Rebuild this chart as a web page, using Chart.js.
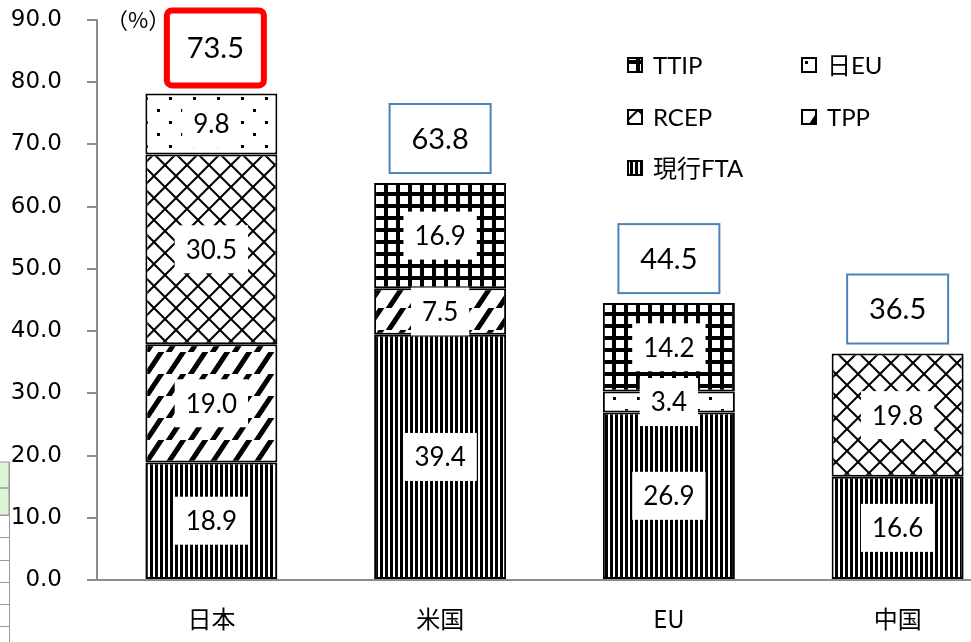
<!DOCTYPE html>
<html>
<head>
<meta charset="utf-8">
<script src="https://cdn.jsdelivr.net/npm/chart.js@4"></script>
<style>
  html, body { margin: 0; padding: 0; overflow: hidden; background: #fff; }
  #wrap { width: 1020px; height: 642px; }
</style>
</head>
<body>
<div id="wrap"><canvas id="chart" width="1020" height="642"></canvas></div>
<script>
// data
const categories = ['日本', '米国', 'EU', '中国'];
const ftaValues  = [18.9, 39.4, 26.9, 16.6];
const tppValues  = [19.0, 7.5, null, null];
const rcepValues = [30.5, null, null, 19.8];
const jpeuValues = [9.8, null, 3.4, null];
const ttipValues = [null, 16.9, 14.2, null];
const totalLabels = ['73.5', '63.8', '44.5', '36.5'];
const yTicks = [0, 10, 20, 30, 40, 50, 60, 70, 80, 90];

// hatch patterns like the Excel fills
function makePattern(w, h, draw) {
  const c = document.createElement('canvas');
  c.width = w; c.height = h;
  const g = c.getContext('2d');
  g.fillStyle = '#fff';
  g.fillRect(0, 0, w, h);
  g.fillStyle = '#000';
  g.strokeStyle = '#000';
  draw(g);
  return g.createPattern(c, 'repeat');
}

const ftaPattern = makePattern(5, 5, g => g.fillRect(0, 0, 3, 5));
const tppPattern = makePattern(22, 22, g => {
  g.lineWidth = 5;
  [0, 22, 44].forEach(k => {
    g.beginPath(); g.moveTo(k - 22, 22 + 22); g.lineTo(k + 22, -22); g.stroke();
  });
});
const rcepPattern = makePattern(22, 22, g => {
  g.lineWidth = 2;
  [-22, 0, 22].forEach(k => {
    g.beginPath(); g.moveTo(k, 0); g.lineTo(k + 22, 22); g.stroke();
    g.beginPath(); g.moveTo(k, 22); g.lineTo(k + 22, 0); g.stroke();
  });
});
const jpeuPattern = makePattern(24, 24, g => {
  g.fillRect(1, 1, 3, 3);
  g.fillRect(13, 13, 3, 3);
});
const ttipPattern = makePattern(12, 12, g => {
  g.fillRect(0, 0, 12, 4);
  g.fillRect(0, 0, 4, 12);
});

// white boxes with the segment values
const segLabels = {
  id: 'segLabels',
  afterDatasetsDraw(chart) {
    const ctx = chart.ctx;
    ctx.save();
    ctx.font = '26px Lato, "Noto Sans"';
    ctx.textAlign = 'center';
    ctx.textBaseline = 'middle';
    chart.data.datasets.forEach((ds, di) => {
      const meta = chart.getDatasetMeta(di);
      meta.data.forEach((bar, i) => {
        const v = ds.data[i];
        if (v == null) return;
        const cy = (bar.y + bar.base) / 2;
        const text = v.toFixed(1);
        const w = ctx.measureText(text).width + 22;
        const h = 48;
        ctx.fillStyle = '#fff';
        ctx.fillRect(bar.x - w / 2, cy - h / 2, w, h);
        ctx.fillStyle = '#000';
        ctx.fillText(text, bar.x, cy + 1);
      });
    });
    ctx.restore();
  }
};

// total boxes above bars, legend, unit, stray table edge
const extras = {
  id: 'extras',
  afterDraw(chart) {
    const ctx = chart.ctx;
    const x = chart.scales.x, y = chart.scales.y;
    ctx.save();

    // totals
    ctx.textAlign = 'center';
    ctx.textBaseline = 'middle';
    ctx.font = '29px Lato, "Noto Sans"';
    categories.forEach((c, i) => {
      let sum = 0;
      chart.data.datasets.forEach(ds => { sum += ds.data[i] || 0; });
      const top = y.getPixelForValue(sum);
      const cx = x.getPixelForValue(i);
      if (i === 0) {
        const w = 97, h = 75;
        const bx = cx + 4 - w / 2, by = top - 8 - h;
        ctx.lineWidth = 6;
        ctx.strokeStyle = '#ff0000';
        ctx.fillStyle = '#fff';
        ctx.beginPath();
        ctx.roundRect(bx, by, w, h, 5);
        ctx.fill();
        ctx.stroke();
        ctx.fillStyle = '#000';
        ctx.fillText(totalLabels[i], cx + 4, by + h / 2 + 1);
      } else {
        const w = 101, h = 69;
        const bx = cx - w / 2, by = top - 10 - h;
        ctx.lineWidth = 2;
        ctx.strokeStyle = '#4f81bd';
        ctx.fillStyle = '#fff';
        ctx.fillRect(bx, by, w, h);
        ctx.strokeRect(bx, by, w, h);
        ctx.fillStyle = '#000';
        ctx.fillText(totalLabels[i], cx, by + h / 2 + 1);
      }
    });

    // unit
    ctx.textAlign = 'left';
    ctx.font = '22px "Noto Sans CJK JP"';
    ctx.fillStyle = '#000';
    ctx.fillText('（%）', 106, 20);

    // legend
    const items = [
      { ds: 4, lx: 628, ly: 65 },
      { ds: 3, lx: 802, ly: 65 },
      { ds: 2, lx: 628, ly: 117 },
      { ds: 1, lx: 802, ly: 117 },
      { ds: 0, lx: 628, ly: 168 }
    ];
    ctx.font = '24px Lato, "Noto Sans CJK JP"';
    items.forEach(it => {
      const ds = chart.data.datasets[it.ds];
      ctx.fillStyle = ds.backgroundColor;
      ctx.fillRect(it.lx, it.ly - 7, 14, 14);
      ctx.lineWidth = 2;
      ctx.strokeStyle = '#000';
      ctx.strokeRect(it.lx, it.ly - 7, 14, 14);
      ctx.fillStyle = '#000';
      ctx.fillText(ds.label, it.lx + 25, it.ly + 1);
    });

    // cut-off table at the left edge
    ctx.lineWidth = 1;
    ctx.strokeStyle = '#999';
    ctx.fillStyle = '#dcf5d5';
    ctx.fillRect(0, 462, 9, 53);
    ctx.strokeRect(-1, 462, 10, 26);
    ctx.strokeRect(-1, 488, 10, 27);
    [515, 537, 560, 582, 604, 626].forEach(v => {
      ctx.beginPath(); ctx.moveTo(0, v + 0.5); ctx.lineTo(9, v + 0.5); ctx.stroke();
    });
    ctx.beginPath(); ctx.moveTo(9.5, 462); ctx.lineTo(9.5, 642); ctx.stroke();

    ctx.restore();
  }
};

const ctx = document.getElementById('chart').getContext('2d');

new Chart(ctx, {
  type: 'bar',
  data: {
    labels: categories,
    datasets: [
      { label: '現行FTA', data: ftaValues, backgroundColor: ftaPattern },
      { label: 'TPP', data: tppValues, backgroundColor: tppPattern },
      { label: 'RCEP', data: rcepValues, backgroundColor: rcepPattern },
      { label: '日EU', data: jpeuValues, backgroundColor: jpeuPattern },
      { label: 'TTIP', data: ttipValues, backgroundColor: ttipPattern }
    ]
  },
  options: {
    responsive: false,
    animation: false,
    layout: { padding: { top: 20, right: 8, left: 0, bottom: 0 } },
    datasets: {
      bar: {
        borderColor: '#000',
        borderWidth: 2,
        borderSkipped: false,
        barPercentage: 0.577,
        categoryPercentage: 1
      }
    },
    plugins: {
      legend: { display: false },
      tooltip: { enabled: false }
    },
    scales: {
      x: {
        stacked: true,
        grid: { display: false },
        border: { display: true, color: '#8c8c8c', width: 2 },
        ticks: {
          color: '#000',
          padding: 16,
          font: { family: '"Noto Sans CJK JP"', size: 24 }
        },
        afterFit: s => { s.height = 62; s.paddingTop = 0; s.paddingBottom = 0; }
      },
      y: {
        stacked: true,
        min: 0,
        max: 90,
        afterBuildTicks: s => { s.ticks = yTicks.map(v => ({ value: v })); },
        grid: {
          drawOnChartArea: false,
          drawTicks: true,
          tickLength: 10,
          color: '#8c8c8c',
          lineWidth: 2
        },
        border: { color: '#8c8c8c', width: 2 },
        ticks: {
          color: '#000',
          padding: 25,
          font: { family: '"DejaVu Sans"', size: 23 },
          callback: v => v.toFixed(1)
        },
        afterFit: s => { s.width = 97; s.paddingTop = 0; s.paddingBottom = 0; }
      }
    }
  },
  plugins: [segLabels, extras]
});
</script>
</body>
</html>
